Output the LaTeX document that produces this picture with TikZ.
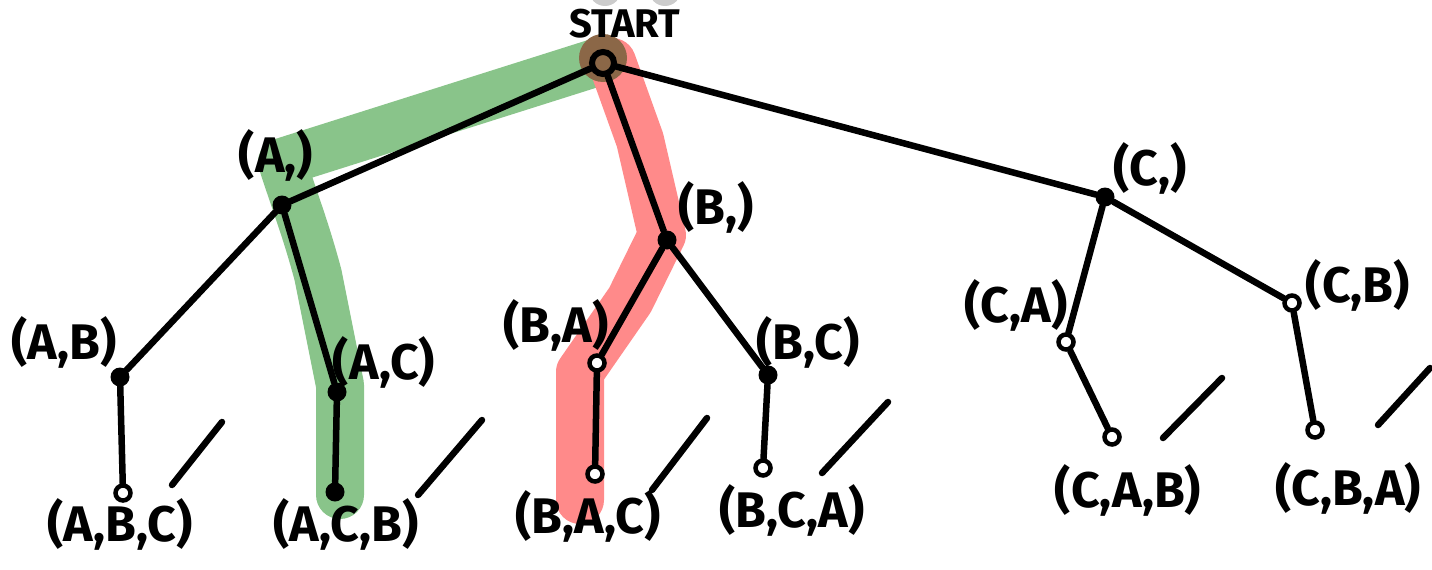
\documentclass[tikz,border=0pt]{standalone}
\usepackage{fontspec}
\setmainfont{Fira Sans}
\begin{document}
\begin{tikzpicture}[x=1pt,y=-1pt,
  edge/.style={line width=6.5pt, line cap=round},
  dotf/.style={circle, fill=black, inner sep=0pt, minimum size=19pt},
  doto/.style={circle, draw=black, line width=4.5pt, fill=white, inner sep=0pt, minimum size=15pt},
  lab/.style={font=\fontsize{50}{60}\selectfont\bfseries, inner sep=0pt},
  hl/.style={line width=48pt, line cap=round, line join=round},
  slash/.style={line width=6.5pt, line cap=round}]
\useasboundingbox (0,0) rectangle (1432,570);
% faint cut-off shapes at the top
\fill[gray!40] (605,-10) circle (16pt);
\fill[gray!40] (665,-10) circle (16pt);
% highlighted paths
\draw[hl, color={rgb,255:red,137;green,196;blue,138}] (598,62) -- (282,162) to[out=-72,in=105] (318,275) -- (340,385) -- (340,495);
\draw[hl, color={rgb,255:red,255;green,138;blue,138}] (612,62) -- (640,140) -- (662,235) -- (630,300) -- (580,372) -- (580,500);
\fill[color={rgb,255:red,139;green,103;blue,71}] (603,58) circle (24pt);
% nodes
\node[doto, minimum size=22pt, line width=6pt, fill=none] (s) at (603,63) {};
\node[dotf] (a) at (282,205) {};
\node[dotf] (b) at (667,240) {};
\node[dotf] (c) at (1105,197) {};
\node[dotf] (ab) at (120,377) {};
\node[dotf] (ac) at (337,392) {};
\node[doto] (ba) at (597,363) {};
\node[dotf] (bc) at (768,375) {};
\node[doto] (ca) at (1066,342) {};
\node[doto] (cb) at (1292,303) {};
\node[doto] (abc) at (123,493) {};
\node[dotf] (acb) at (335,492) {};
\node[doto] (bac) at (595,474) {};
\node[doto] (bca) at (763,468) {};
\node[doto] (cab) at (1112,437) {};
\node[doto] (cba) at (1315,430) {};
% edges
\draw[edge] (s) -- (a);
\draw[edge] (s) -- (b);
\draw[edge] (s) -- (c);
\draw[edge] (a) -- (ab);
\draw[edge] (a) -- (ac);
\draw[edge] (b) -- (ba);
\draw[edge] (b) -- (bc);
\draw[edge] (c) -- (ca);
\draw[edge] (c) -- (cb);
\draw[edge] (ab) -- (abc);
\draw[edge] (ac) -- (acb);
\draw[edge] (ba) -- (bac);
\draw[edge] (bc) -- (bca);
\draw[edge] (ca) -- (cab);
\draw[edge] (cb) -- (cba);
% labels
\node[lab, font=\fontsize{40}{46}\selectfont\bfseries] (ls) at (625,24) {START};
\node[lab] (la) at (276,155) {(A,)};
\node[lab] (lb) at (716,207) {(B,)};
\node[lab] (lc) at (1150,168) {(C,)};
\node[lab] (lab) at (64,342) {(A,B)};
\node[lab] (lac) at (384,362) {(A,C)};
\node[lab] (lba) at (556,325) {(B,A)};
\node[lab] (lbc) at (808,342) {(B,C)};
\node[lab] (lca) at (1016,305) {(C,A)};
\node[lab] (lcb) at (1358,285) {(C,B)};
\node[lab] (labc) at (120,524) {(A,B,C)};
\node[lab] (lacb) at (346,524) {(A,C,B)};
\node[lab] (lbac) at (588,516) {(B,A,C)};
\node[lab] (lbca) at (792,510) {(B,C,A)};
\node[lab] (lcab) at (1128,490) {(C,A,B)};
\node[lab] (lcba) at (1348,488) {(C,B,A)};
% slashes
\coordinate (p1) at (172,485); \coordinate (q1) at (222,422);
\coordinate (p2) at (418,495); \coordinate (q2) at (482,420);
\coordinate (p3) at (652,490); \coordinate (q3) at (707,418);
\coordinate (p4) at (822,473); \coordinate (q4) at (888,402);
\coordinate (p5) at (1163,438); \coordinate (q5) at (1222,378);
\coordinate (p6) at (1378,425); \coordinate (q6) at (1430,368);
\foreach \i in {1,...,6} \draw[slash] (p\i) -- (q\i);
\end{tikzpicture}
\end{document}
